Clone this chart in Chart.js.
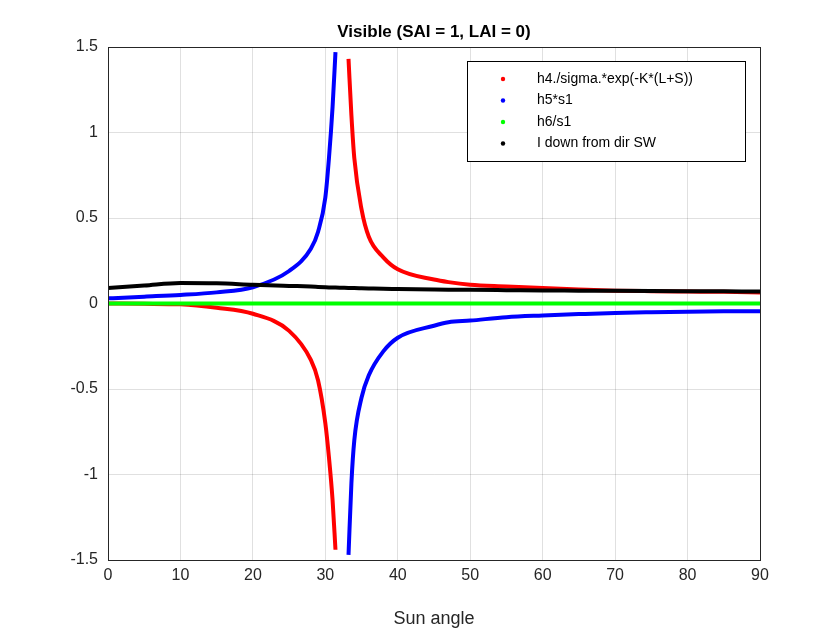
<!DOCTYPE html>
<html>
<head>
<meta charset="utf-8">
<script src="https://cdn.jsdelivr.net/npm/chart.js@4"></script>
<style>body{margin:0;background:#fff}</style>
</head>
<body>
<canvas id="ex_chart" width="840" height="630"></canvas>
<script>
// sun angle samples (null = break at the singularity)
var angles = [0, 5, 10, 15, 20, 25, 28, 29, 30, 30.5, 31, 31.4, 32.3, 33.2, 33.6, 34, 35, 36, 38, 40, 45, 47, 50, 55, 60, 65, 70, 75, 80, 85, 90];
var h4 = [0, -0.002, -0.005, -0.025, -0.06, -0.16, -0.33, -0.45, -0.7, -0.9, -1.15, -1.44, null, 1.43, 1.1, 0.85, 0.55, 0.39, 0.27, 0.2, 0.14, 0.125, 0.11, 0.1, 0.09, 0.082, 0.075, 0.072, 0.07, 0.068, 0.065];
var h5 = [0.03, 0.04, 0.05, 0.065, 0.095, 0.19, 0.32, 0.42, 0.62, 0.85, 1.15, 1.47, null, -1.47, -1.05, -0.8, -0.55, -0.42, -0.28, -0.2, -0.13, -0.11, -0.1, -0.08, -0.07, -0.062, -0.055, -0.051, -0.048, -0.046, -0.045];
var h6 = [0, 0, 0, 0, 0, 0, 0, 0, 0, 0, 0, 0, 0, 0, 0, 0, 0, 0, 0, 0, 0, 0, 0, 0, 0, 0, 0, 0, 0, 0, 0];
var idown = [0.09, 0.105, 0.12, 0.118, 0.11, 0.103, 0.099, 0.097, 0.095, 0.094, 0.093, 0.093, 0.092, 0.091, 0.09, 0.09, 0.089, 0.088, 0.086, 0.085, 0.082, 0.081, 0.08, 0.078, 0.076, 0.075, 0.074, 0.073, 0.072, 0.071, 0.07];
var labels = ["h4./sigma.*exp(-K*(L+S))", "h5*s1", "h6/s1", "I down from dir SW"];
var colors = ["rgb(255,0,0)", "rgb(0,0,255)", "rgb(0,255,0)", "rgb(0,0,0)"];
var xTicks = [0, 10, 20, 30, 40, 50, 60, 70, 80, 90];

function pts(ys) {
    return angles.map(function (a, i) { return { x: a, y: ys[i] }; });
}

var legendBox = {
    id: 'legendBox',
    afterDraw: function (chart) {
        var c = chart.ctx;
        var a = chart.chartArea;
        c.save();
        c.strokeStyle = '#262626';
        c.lineWidth = 1;
        c.strokeRect(a.left + 0.5, a.top + 0.5, a.right - a.left, a.bottom - a.top);
        c.font = 'bold 17px "Liberation Sans", Arial, sans-serif';
        c.fillStyle = '#000';
        c.textAlign = 'center';
        c.textBaseline = 'middle';
        c.fillText('Visible (SAI = 1, LAI = 0)', 434, 32);
        c.fillStyle = '#fff';
        c.fillRect(467, 61, 278, 100);
        c.strokeStyle = '#000';
        c.strokeRect(467.5, 61.5, 278, 100);
        c.font = '14px "Liberation Sans", Arial, sans-serif';
        c.textAlign = 'left';
        for (var i = 0; i < labels.length; i++) {
            var y = 79 + i * 21.5;
            c.fillStyle = colors[i];
            c.beginPath();
            c.arc(503, y, 2.2, 0, 2 * Math.PI);
            c.fill();
            c.fillStyle = '#000';
            c.fillText(labels[i], 537, y);
        }
        c.restore();
    }
};

var series = [h4, h5, h6, idown];
var ctx = document.getElementById('ex_chart');
var ex_chart = new Chart(ctx, {
    type: 'scatter',
    data: {
        datasets: series.map(function (s, i) {
            return {
                label: labels[i],
                data: pts(s),
                showLine: true,
                spanGaps: false,
                cubicInterpolationMode: 'monotone',
                pointRadius: 0,
                borderWidth: 4,
                borderColor: colors[i],
                backgroundColor: colors[i]
            };
        }).reverse()
    },
    plugins: [legendBox],
    options: {
        responsive: false,
        animation: false,
        layout: { padding: { top: 47, right: 80, left: 0, bottom: 0 } },
        plugins: { legend: { display: false }, tooltip: { enabled: false } },
        scales: {
            x: {
                min: 0, max: 90,
                afterFit: function (s) { s.height = 70; },
                afterBuildTicks: function (s) { s.ticks = xTicks.map(function (v) { return { value: v }; }); },
                grid: { color: 'rgba(0,0,0,0.12)', tickLength: 0 },
                border: { color: '#262626' },
                ticks: { color: '#262626', font: { size: 16, family: 'Liberation Sans' }, padding: 6 },
                title: { display: true, text: 'Sun angle', color: '#262626', font: { size: 18, family: 'Liberation Sans' }, padding: 0 }
            },
            y: {
                min: -1.5, max: 1.5,
                afterFit: function (s) { s.width = 108; },
                ticks: {
                    stepSize: 0.5, color: '#262626', font: { size: 16, family: 'Liberation Sans' }, padding: 10,
                    callback: function (v) { return String(v); }
                },
                grid: { color: 'rgba(0,0,0,0.12)', tickLength: 0 },
                border: { color: '#262626' }
            }
        }
    }
});
</script>
</body>
</html>
